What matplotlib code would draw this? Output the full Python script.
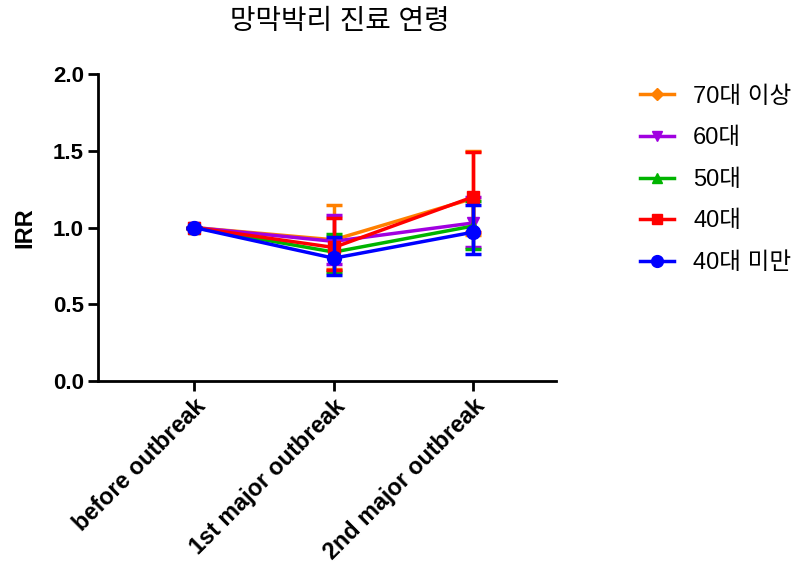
import matplotlib
matplotlib.use("Agg")
import matplotlib.pyplot as plt
from matplotlib.lines import Line2D
import numpy as np

plt.rcParams['font.family'] = ['Liberation Sans', 'Noto Sans CJK KR', 'DejaVu Sans']

periods = ["before outbreak", "1st major outbreak", "2nd major outbreak"]
groups = ["70대 이상", "60대", "50대", "40대", "40대 미만"]

irr_70 = [1.0, 0.92, 1.19]
irr_60 = [1.0, 0.91, 1.03]
irr_50 = [1.0, 0.84, 1.01]
irr_40 = [1.0, 0.87, 1.20]
irr_u40 = [1.0, 0.80, 0.97]

lo_70 = [1.0, 0.73, 0.95]
hi_70 = [1.0, 1.15, 1.50]
lo_60 = [1.0, 0.76, 0.87]
hi_60 = [1.0, 1.08, 1.20]
lo_50 = [1.0, 0.71, 0.86]
hi_50 = [1.0, 0.96, 1.17]
lo_40 = [1.0, 0.72, 0.97]
hi_40 = [1.0, 1.06, 1.49]
lo_u40 = [1.0, 0.69, 0.83]
hi_u40 = [1.0, 0.94, 1.15]

series = [
    (irr_70, lo_70, hi_70, "#ff8000", "D", 7),
    (irr_60, lo_60, hi_60, "#a000e0", "v", 9),
    (irr_50, lo_50, hi_50, "#00b400", "^", 9),
    (irr_40, lo_40, hi_40, "#ff0000", "s", 9),
    (irr_u40, lo_u40, hi_u40, "#0000ff", "o", 10),
]

fig = plt.figure(figsize=(8, 5.71), dpi=100)
ax = fig.add_axes([0.1225, 0.333, 0.572, 0.537])

x = np.arange(len(periods))
handles = []
for i, (y, lo, hi, color, marker, ms) in enumerate(series):
    y = np.array(y)
    err = [y - np.array(lo), np.array(hi) - y]
    ax.errorbar(x, y, yerr=err, color=color, marker=marker, markersize=ms,
                linewidth=2.5, elinewidth=2.5, capsize=6, capthick=2.5,
                zorder=3 + i)
    handles.append(Line2D([], [], color=color, marker=marker,
                          markersize=ms * 0.85, linewidth=2.5, label=groups[i]))

ax.set_xlim(-0.69, 2.59)
ax.set_ylim(0, 2.0)
ax.set_yticks([0, 0.5, 1.0, 1.5, 2.0])
ax.set_yticklabels(["0.0", "0.5", "1.0", "1.5", "2.0"])
ax.set_xticks(x)
ax.set_xticklabels(periods, rotation=45, ha="right", rotation_mode="anchor")

for lab in ax.get_yticklabels():
    lab.set_fontweight("bold")
    lab.set_fontsize(16)
for lab in ax.get_xticklabels():
    lab.set_fontweight("bold")
    lab.set_fontsize(16.8)

ax.spines["top"].set_visible(False)
ax.spines["right"].set_visible(False)
ax.spines["left"].set_linewidth(2)
ax.spines["bottom"].set_linewidth(2)
ax.tick_params(width=2, length=7, pad=3)

ax.set_ylabel("IRR", fontsize=17, fontweight="bold", labelpad=12)
fig.text(0.425, 0.962, "망막박리 진료 연령", fontsize=20, ha="center", va="center")

fig.legend(handles=handles, loc="upper left", bbox_to_anchor=(0.8, 0.85),
           frameon=False, fontsize=17, handlelength=1.45, handletextpad=0.8,
           labelspacing=0.83, borderpad=0, borderaxespad=0)

fig.savefig("out.png", dpi=100)
